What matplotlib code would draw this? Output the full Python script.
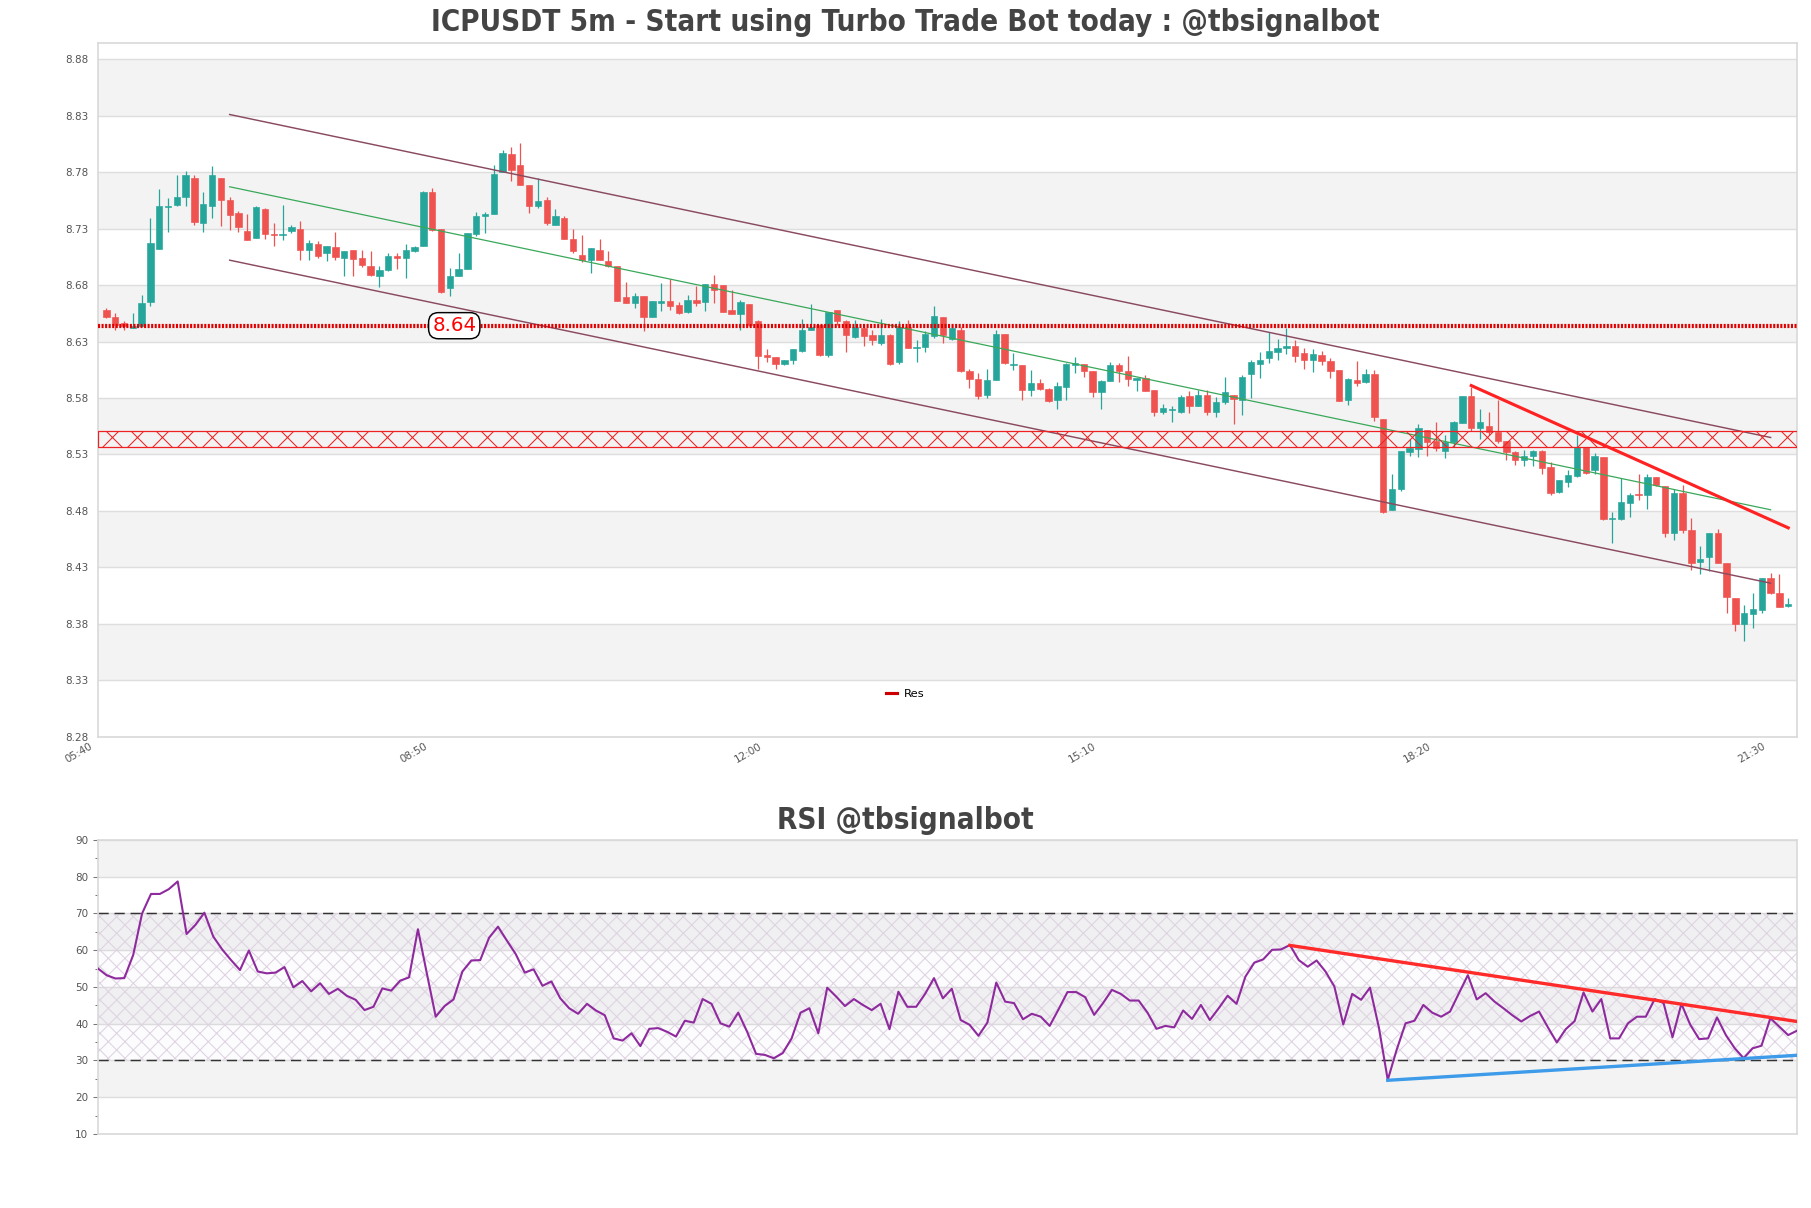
import matplotlib
matplotlib.use("Agg")
import matplotlib.pyplot as plt
import matplotlib.transforms as mtransforms
from matplotlib.lines import Line2D

plt.rcParams['font.family'] = ['DejaVu Sans']
plt.rcParams['hatch.linewidth'] = 0.5

## Donnees des bougies (5m, 05:40 -> 21:35)
opens = [8.658, 8.652, 8.646, 8.642, 8.644, 8.665, 8.712, 8.749, 8.751, 8.758,
         8.775, 8.735, 8.750, 8.775, 8.755, 8.744, 8.728, 8.722, 8.747, 8.725,
         8.724, 8.728, 8.730, 8.711, 8.716, 8.708, 8.714, 8.704, 8.711, 8.704,
         8.697, 8.688, 8.693, 8.706, 8.704, 8.710, 8.715, 8.762, 8.730, 8.677,
         8.688, 8.694, 8.725, 8.741, 8.743, 8.780, 8.796, 8.786, 8.769, 8.750,
         8.755, 8.733, 8.739, 8.721, 8.707, 8.702, 8.711, 8.701, 8.697, 8.669,
         8.664, 8.670, 8.652, 8.664, 8.666, 8.662, 8.656, 8.667, 8.665, 8.681,
         8.680, 8.658, 8.654, 8.663, 8.648, 8.618, 8.616, 8.610, 8.614, 8.622,
         8.640, 8.645, 8.618, 8.658, 8.648, 8.634, 8.642, 8.636, 8.629, 8.636,
         8.612, 8.643, 8.624, 8.625, 8.635, 8.652, 8.632, 8.640, 8.604, 8.597,
         8.583, 8.596, 8.637, 8.609, 8.609, 8.587, 8.593, 8.588, 8.578, 8.590,
         8.609, 8.610, 8.604, 8.585, 8.595, 8.609, 8.604, 8.596, 8.598, 8.587,
         8.568, 8.569, 8.568, 8.582, 8.573, 8.583, 8.568, 8.576, 8.583, 8.578,
         8.601, 8.610, 8.615, 8.621, 8.624, 8.626, 8.620, 8.614, 8.618, 8.613,
         8.605, 8.578, 8.596, 8.594, 8.601, 8.561, 8.481, 8.499, 8.532, 8.535,
         8.552, 8.542, 8.533, 8.541, 8.558, 8.582, 8.553, 8.555, 8.550, 8.542,
         8.532, 8.525, 8.529, 8.533, 8.519, 8.497, 8.506, 8.511, 8.537, 8.516,
         8.528, 8.473, 8.473, 8.487, 8.495, 8.494, 8.510, 8.502, 8.460, 8.496,
         8.463, 8.435, 8.439, 8.460, 8.434, 8.403, 8.380, 8.389, 8.392, 8.421,
         8.407, 8.396]
highs = [8.660, 8.655, 8.648, 8.655, 8.671, 8.739, 8.765, 8.757, 8.777, 8.781,
         8.777, 8.762, 8.785, 8.775, 8.758, 8.746, 8.743, 8.750, 8.748, 8.735,
         8.751, 8.733, 8.737, 8.720, 8.719, 8.715, 8.727, 8.710, 8.711, 8.711,
         8.710, 8.697, 8.708, 8.708, 8.716, 8.715, 8.763, 8.766, 8.730, 8.695,
         8.708, 8.726, 8.745, 8.745, 8.786, 8.800, 8.802, 8.806, 8.769, 8.775,
         8.758, 8.747, 8.741, 8.730, 8.724, 8.713, 8.721, 8.710, 8.697, 8.683,
         8.673, 8.670, 8.666, 8.682, 8.685, 8.665, 8.671, 8.679, 8.681, 8.689,
         8.680, 8.676, 8.667, 8.663, 8.649, 8.623, 8.616, 8.614, 8.623, 8.650,
         8.663, 8.645, 8.656, 8.658, 8.649, 8.649, 8.645, 8.640, 8.650, 8.637,
         8.648, 8.649, 8.631, 8.639, 8.661, 8.652, 8.645, 8.643, 8.606, 8.602,
         8.606, 8.640, 8.637, 8.620, 8.609, 8.605, 8.597, 8.589, 8.594, 8.611,
         8.616, 8.610, 8.604, 8.596, 8.612, 8.611, 8.617, 8.598, 8.600, 8.587,
         8.575, 8.573, 8.583, 8.586, 8.587, 8.587, 8.581, 8.599, 8.583, 8.600,
         8.614, 8.621, 8.638, 8.632, 8.642, 8.631, 8.624, 8.623, 8.622, 8.615,
         8.605, 8.598, 8.613, 8.606, 8.605, 8.561, 8.513, 8.533, 8.544, 8.557,
         8.552, 8.559, 8.547, 8.560, 8.582, 8.590, 8.570, 8.568, 8.578, 8.542,
         8.533, 8.534, 8.534, 8.534, 8.523, 8.507, 8.516, 8.547, 8.537, 8.531,
         8.528, 8.479, 8.509, 8.496, 8.513, 8.513, 8.510, 8.502, 8.499, 8.503,
         8.474, 8.449, 8.460, 8.464, 8.434, 8.403, 8.397, 8.407, 8.421, 8.425,
         8.424, 8.403]
lows = [8.651, 8.640, 8.640, 8.642, 8.644, 8.661, 8.712, 8.727, 8.750, 8.750,
        8.733, 8.727, 8.739, 8.732, 8.729, 8.727, 8.720, 8.722, 8.721, 8.715,
        8.720, 8.726, 8.702, 8.702, 8.704, 8.701, 8.702, 8.688, 8.688, 8.696,
        8.688, 8.678, 8.692, 8.694, 8.686, 8.709, 8.715, 8.728, 8.673, 8.670,
        8.688, 8.694, 8.723, 8.726, 8.743, 8.780, 8.772, 8.769, 8.744, 8.748,
        8.733, 8.733, 8.721, 8.708, 8.700, 8.691, 8.702, 8.696, 8.666, 8.664,
        8.660, 8.639, 8.652, 8.657, 8.658, 8.654, 8.655, 8.661, 8.657, 8.664,
        8.656, 8.654, 8.640, 8.644, 8.606, 8.612, 8.606, 8.609, 8.610, 8.621,
        8.640, 8.617, 8.616, 8.645, 8.621, 8.633, 8.626, 8.627, 8.627, 8.609,
        8.610, 8.624, 8.612, 8.621, 8.633, 8.629, 8.631, 8.603, 8.589, 8.579,
        8.580, 8.596, 8.610, 8.605, 8.578, 8.582, 8.587, 8.576, 8.570, 8.578,
        8.602, 8.599, 8.581, 8.570, 8.595, 8.594, 8.591, 8.586, 8.586, 8.564,
        8.566, 8.559, 8.567, 8.567, 8.573, 8.565, 8.563, 8.575, 8.557, 8.565,
        8.580, 8.598, 8.611, 8.614, 8.619, 8.612, 8.606, 8.603, 8.609, 8.598,
        8.577, 8.574, 8.591, 8.593, 8.560, 8.478, 8.481, 8.498, 8.529, 8.528,
        8.529, 8.533, 8.527, 8.537, 8.558, 8.551, 8.544, 8.547, 8.540, 8.525,
        8.521, 8.520, 8.520, 8.513, 8.494, 8.496, 8.501, 8.510, 8.513, 8.513,
        8.472, 8.452, 8.472, 8.475, 8.490, 8.482, 8.502, 8.457, 8.454, 8.460,
        8.428, 8.424, 8.427, 8.434, 8.390, 8.374, 8.365, 8.376, 8.390, 8.406,
        8.395, 8.395]
closes = [8.652, 8.645, 8.644, 8.644, 8.664, 8.717, 8.750, 8.750, 8.758, 8.777,
          8.736, 8.752, 8.777, 8.755, 8.742, 8.731, 8.720, 8.749, 8.725, 8.724,
          8.7245, 8.731, 8.711, 8.717, 8.706, 8.715, 8.705, 8.710, 8.703, 8.698,
          8.689, 8.693, 8.706, 8.704, 8.711, 8.714, 8.762, 8.729, 8.674, 8.688,
          8.694, 8.726, 8.741, 8.743, 8.778, 8.797, 8.782, 8.769, 8.750, 8.754,
          8.735, 8.741, 8.721, 8.710, 8.702, 8.713, 8.702, 8.697, 8.666, 8.664,
          8.670, 8.652, 8.666, 8.666, 8.661, 8.655, 8.667, 8.664, 8.681, 8.676,
          8.656, 8.654, 8.665, 8.645, 8.617, 8.616, 8.610, 8.614, 8.623, 8.640,
          8.643, 8.618, 8.656, 8.648, 8.636, 8.643, 8.635, 8.631, 8.636, 8.610,
          8.643, 8.624, 8.625, 8.637, 8.653, 8.636, 8.642, 8.604, 8.597, 8.582,
          8.596, 8.637, 8.611, 8.610, 8.587, 8.593, 8.588, 8.577, 8.591, 8.610,
          8.611, 8.604, 8.585, 8.595, 8.609, 8.604, 8.597, 8.598, 8.586, 8.568,
          8.571, 8.5705, 8.581, 8.573, 8.583, 8.568, 8.576, 8.585, 8.579, 8.599,
          8.612, 8.614, 8.622, 8.624, 8.626, 8.617, 8.614, 8.619, 8.613, 8.604,
          8.577, 8.597, 8.593, 8.601, 8.563, 8.479, 8.499, 8.533, 8.536, 8.553,
          8.541, 8.536, 8.541, 8.559, 8.582, 8.553, 8.559, 8.550, 8.542, 8.532,
          8.525, 8.529, 8.533, 8.518, 8.496, 8.507, 8.512, 8.537, 8.514, 8.529,
          8.473, 8.474, 8.488, 8.494, 8.494, 8.510, 8.503, 8.460, 8.496, 8.463,
          8.434, 8.437, 8.460, 8.434, 8.404, 8.380, 8.390, 8.393, 8.421, 8.407,
          8.395, 8.398]

## RSI
rsi = [55.1, 53.2, 52.3, 52.4, 58.7, 70.0, 75.3, 75.3, 76.6, 78.7,
       64.4, 66.9, 70.2, 63.7, 60.2, 57.3, 54.6, 59.9, 54.2, 53.7,
       53.9, 55.4, 49.9, 51.6, 48.8, 51.0, 48.1, 49.5, 47.6, 46.5,
       43.7, 44.6, 49.6, 49.0, 51.7, 52.6, 65.7, 53.7, 41.9, 44.8,
       46.6, 54.2, 57.2, 57.3, 63.4, 66.4, 62.6, 58.9, 53.9, 54.8,
       50.3, 51.5, 46.9, 44.2, 42.7, 45.4, 43.6, 42.3, 36.0, 35.4,
       37.4, 33.9, 38.6, 38.8, 37.8, 36.5, 40.8, 40.3, 46.7, 45.4,
       40.1, 39.2, 43.0, 37.8, 31.8, 31.5, 30.6, 32.0, 36.0, 43.0,
       44.2, 37.4, 49.8, 47.4, 44.8, 46.7, 45.1, 43.7, 45.4, 38.5,
       48.7, 44.6, 44.6, 48.1, 52.4, 46.9, 49.5, 41.0, 39.7, 36.7,
       40.3, 51.2, 46.0, 45.6, 41.2, 42.7, 41.9, 39.4, 43.9, 48.6,
       48.6, 47.2, 42.4, 45.6, 49.2, 48.1, 46.3, 46.3, 43.0, 38.6,
       39.4, 39.0, 43.6, 41.3, 45.1, 41.0, 44.2, 47.6, 45.4, 52.8,
       56.6, 57.5, 60.1, 60.2, 61.4, 57.3, 55.5, 57.2, 54.2, 50.1,
       39.8, 48.1, 46.5, 49.8, 39.0, 24.7, 32.9, 40.1, 40.8, 45.1,
       43.0, 41.9, 43.3, 48.3, 53.2, 46.6, 48.3, 46.0, 44.2, 42.3,
       40.6, 42.1, 43.3, 39.0, 34.9, 38.5, 40.7, 48.5, 43.3, 46.7,
       36.0, 36.0, 40.1, 41.9, 41.9, 46.7, 45.6, 36.3, 45.4, 39.7,
       35.8, 36.0, 41.7, 36.9, 33.3, 30.6, 33.3, 34.0, 41.5, 39.2,
       36.9, 38.1]

tick_pos = [0, 38, 76, 114, 152, 190]
tick_labels = ['05:40', '08:50', '12:00', '15:10', '18:20', '21:30']

# canal de regression
chan_x = [14, 189]
chan_haut = [8.831, 8.545]
chan_milieu = [8.767, 8.481]
chan_bas = [8.702, 8.416]

# ligne de tendance rouge (prix)
tend_x = [155, 191]
tend_y = [8.591, 8.465]

res = 8.644
zone_bas, zone_haut = 8.537, 8.551

# lignes de tendance RSI
rsi_res_x = [134, 191]
rsi_res_y = [61.3, 40.6]
rsi_sup_x = [145, 191]
rsi_sup_y = [24.6, 31.4]

VERT = '#26a69a'
ROUGE = '#ef5350'
GRIS_BANDE = '#f3f3f3'
GRILLE = '#dedede'
TXT = '#555555'

fig = plt.figure(figsize=(1811/150, 1208/150), dpi=150)
ax = fig.add_axes([0.0539, 0.3901, 0.9384, 0.574])
ax2 = fig.add_axes([0.0539, 0.0613, 0.9384, 0.2434])

## Graphique principal
yt = [8.28 + 0.05*k for k in range(13)]
for k in range(12):
    if k % 2 == 1:
        ax.axhspan(yt[k], yt[k+1], color=GRIS_BANDE, lw=0, zorder=0)
for v in yt:
    ax.axhline(v, color=GRILLE, lw=0.7, zorder=0.5)

n = len(closes)
for i in range(n):
    o, h, l, c = opens[i], highs[i], lows[i], closes[i]
    col = VERT if c >= o else ROUGE
    ax.vlines(i, l, h, color=col, lw=0.6, zorder=2)
    ax.bar(i, max(abs(c - o), 0.0008), bottom=min(o, c), width=0.72,
           color=col, edgecolor=col, lw=0.3, zorder=3)

ax.plot(chan_x, chan_haut, color='#8a4a60', lw=0.7, zorder=4)
ax.plot(chan_x, chan_bas, color='#8a4a60', lw=0.7, zorder=4)
ax.plot(chan_x, chan_milieu, color='#3aa85a', lw=0.6, zorder=4)
ax.plot(tend_x, tend_y, color='#ff2222', lw=1.5, zorder=5)

ax.axhline(res, color='#e00000', lw=2.0, ls=(0, (0.5, 0.35)), zorder=4)
ax.text(39.5, res, '8.64', color='red', fontsize=9.5, ha='center', va='center',
        zorder=6, bbox=dict(boxstyle='round,pad=0.18,rounding_size=0.5', fc='white',
                            ec='black', lw=0.7))

ax.axhspan(zone_bas, zone_haut, facecolor='none', edgecolor='#ee2222', hatch='xx',
           lw=0.6, zorder=4)

fig.legend(handles=[Line2D([0], [0], color='#cc0000', lw=1.5)], labels=['Res'],
           loc='center', bbox_to_anchor=(0.5, 0.4255), frameon=False,
           fontsize=5.5, handlelength=1.0, handletextpad=0.6)

ax.set_xlim(-1, n)
ax.set_ylim(8.28, 8.894)
ax.set_yticks(yt)
ax.set_yticklabels(['%.2f' % v for v in yt])
ax.set_xticks(tick_pos)
ax.set_xticklabels(tick_labels, rotation=30, ha='right')
ax.tick_params(axis='both', length=0, labelsize=5, labelcolor=TXT)
ax.tick_params(axis='y', pad=4.5)
ax.tick_params(axis='x', pad=2)
decal = mtransforms.ScaledTranslation(-12/150, 0, fig.dpi_scale_trans)
for lab in ax.get_xticklabels():
    lab.set_transform(lab.get_transform() + decal)
for s in ax.spines.values():
    s.set_color('#d9d9d9')
    s.set_linewidth(0.8)

fig.text(0.5, 0.981, 'ICPUSDT 5m - Start using Turbo Trade Bot today : @tbsignalbot',
         ha='center', va='center', fontsize=14.2, fontweight='bold', color='#444444',
         fontstretch='condensed')

## RSI
x_rsi = list(range(len(rsi)))
for b in [20, 40, 60, 80]:
    ax2.axhspan(b, b + 10, color=GRIS_BANDE, lw=0, zorder=0)
for v in range(10, 91, 10):
    ax2.axhline(v, color=GRILLE, lw=0.7, zorder=0.5)
ax2.fill_between([0, len(rsi) - 1], 30, 70, facecolor=(0.55, 0.2, 0.6, 0.02),
                 edgecolor='#ddd3e1', hatch='xxx', lw=0, zorder=1)
ax2.axhline(70, color='#333333', lw=0.7, dashes=(7, 4), zorder=2)
ax2.axhline(30, color='#333333', lw=0.7, dashes=(7, 4), zorder=2)
ax2.plot(x_rsi, rsi, color='#8e2a9e', lw=1.0, zorder=3)
ax2.plot(rsi_res_x, rsi_res_y, color='#ff2a2a', lw=1.6, zorder=4)
ax2.plot(rsi_sup_x, rsi_sup_y, color='#3d9be9', lw=1.6, zorder=4)

ax2.set_xlim(0, len(rsi) - 1)
ax2.set_ylim(10, 90)
ax2.set_yticks(range(10, 91, 10))
ax2.set_yticks(range(15, 90, 10), minor=True)
ax2.set_xticks([])
ax2.tick_params(axis='y', which='major', length=2.5, width=0.5, color='#777777',
                labelsize=5, labelcolor=TXT, pad=2)
ax2.tick_params(axis='y', which='minor', length=1.5, width=0.5, color='#777777')
for s in ax2.spines.values():
    s.set_color('#d9d9d9')
    s.set_linewidth(0.8)

fig.text(0.5, 0.321, 'RSI @tbsignalbot', ha='center', va='center', fontsize=14.2,
         fontweight='bold', color='#444444', fontstretch='condensed')

fig.savefig('out.png', dpi=150)
